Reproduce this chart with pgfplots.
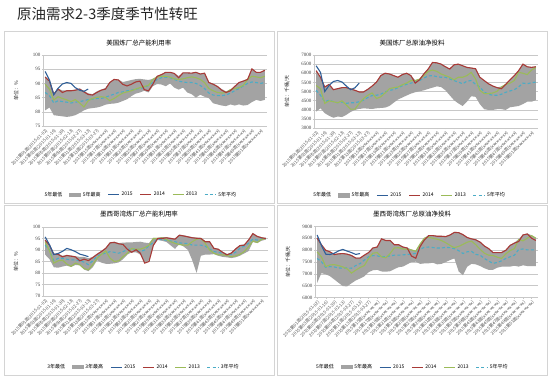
\documentclass[border=0pt]{standalone}
\usepackage{fontspec}
\setmainfont{Liberation Serif}
\newfontfamily\cjk{Noto Sans CJK SC}
\usepackage{pgfplots}
\pgfplotsset{compat=1.18}
\usepgfplotslibrary{fillbetween}
\usepackage{pgfplotstable}

\definecolor{cband}{HTML}{A3A3A3}
\definecolor{c15}{HTML}{2F5F98}
\definecolor{c14}{HTML}{A83A37}
\definecolor{c13}{HTML}{9BBB59}
\definecolor{cavg}{HTML}{4BACC6}
\definecolor{cgrid}{HTML}{C8C8C8}
\definecolor{cframe}{HTML}{D4D4D4}

% US refinery utilisation (%)
\pgfplotstableread{
w lo hi a14 a13 avg
1 80.5 92.5 92.2 89.7 86.8
2 81.5 91.0 90.8 88.0 85.7
3 78.8 86.5 86.2 84.2 83.1
4 78.6 88.2 88.0 85.3 83.9
5 78.4 87.5 86.8 84.7 83.6
6 78.2 87.6 87.4 84.2 83.4
7 78.4 87.6 87.4 83.6 83.1
8 78.8 87.8 87.6 84.3 83.4
9 79.6 88.2 88.0 83.1 83.6
10 80.5 87.4 87.0 81.7 83.9
11 81.1 86.5 86.1 83.9 84.3
12 81.3 86.2 85.9 84.7 84.5
13 81.5 87.2 86.8 85.1 84.7
14 81.9 87.8 87.6 85.3 84.7
15 82.5 88.4 88.0 85.1 85.1
16 82.8 90.5 90.3 83.9 85.7
17 82.9 91.5 91.4 84.7 86.2
18 83.2 91.4 91.2 85.7 86.8
19 83.8 90.5 89.7 86.6 87.0
20 84.4 90.8 89.1 87.0 87.4
21 85.5 91.2 89.7 87.4 87.6
22 86.4 91.5 90.5 88.0 88.0
23 86.8 91.6 90.8 88.5 88.2
24 87.4 91.4 87.8 88.9 88.5
25 86.8 91.2 87.4 89.3 89.3
26 89.0 91.6 89.7 91.4 90.3
27 89.8 92.6 92.5 92.2 91.4
28 89.6 93.2 93.1 92.5 92.0
29 89.0 94.0 93.9 92.5 92.2
30 90.0 94.0 93.9 92.2 92.0
31 88.5 93.6 93.5 91.6 91.4
32 87.8 92.6 92.0 91.4 90.8
33 88.5 93.8 93.7 91.6 90.5
34 86.8 93.8 93.7 92.0 90.3
35 86.2 93.7 93.6 92.3 90.3
36 85.0 94.0 93.9 92.0 90.0
37 86.0 93.4 93.3 91.4 89.3
38 85.3 93.7 93.6 90.3 88.2
39 84.8 90.5 90.3 88.2 86.6
40 83.0 89.9 89.7 87.4 85.9
41 82.6 89.1 88.9 86.8 85.7
42 82.2 88.0 87.6 86.6 85.7
43 82.0 87.2 86.8 86.8 85.9
44 82.6 87.8 87.4 87.8 86.6
45 82.2 89.1 88.9 88.2 87.4
46 82.6 90.4 90.3 88.5 88.2
47 82.2 91.0 90.8 89.3 89.1
48 82.4 91.6 91.4 91.4 90.0
49 83.4 95.2 95.1 92.5 90.5
50 84.2 94.0 93.9 92.3 90.3
51 83.8 94.0 93.9 92.0 90.0
52 84.2 94.7 94.6 92.5 90.3
}\tabA
\pgfplotstableread{
w v
1 94.2
2 91.2
3 86.0
4 88.3
5 89.8
6 90.3
7 90.0
8 88.5
9 87.6
10 87.2
11 88.0
}\tabAf

% US crude net input (kb/d)
\pgfplotstableread{
w lo hi a14 a13 avg
1 3900 6160 6140 5330 5065
2 4080 5800 5781 5155 4795
3 3810 5260 5244 4350 4440
4 3670 5410 5390 4490 4527
5 3560 5120 5100 4440 4440
6 3630 5175 5155 4385 4385
7 3600 5230 5210 4490 4420
8 3720 5230 5210 4260 4350
9 3880 5160 5140 4030 4385
10 3990 5085 5065 4030 4385
11 4040 4995 4975 4350 4440
12 4080 4995 4975 4615 4527
13 4060 5140 5120 4795 4670
14 4040 5320 5300 4920 4780
15 4080 5535 5515 4615 4795
16 4100 5890 5870 4706 4850
17 4115 6020 6000 4920 4975
18 4205 5980 5960 5155 5065
19 4385 5890 5870 5210 5100
20 4560 5800 5781 5245 5210
21 4670 5945 5925 5370 5315
22 4780 6020 6000 5460 5390
23 4885 5890 5870 5600 5460
24 4960 5620 5460 5600 5515
25 5010 5695 5640 5675 5600
26 5065 5980 5960 5870 5730
27 5140 6250 6230 6105 5850
28 5210 6610 6590 6175 5870
29 5280 6590 6570 6105 5815
30 5245 6520 6500 5960 5780
31 5065 6375 6355 5870 5780
32 4795 6250 6230 5780 5690
33 4527 6480 6460 5640 5600
34 4350 6520 6500 5780 5515
35 4205 6430 6410 5780 5425
36 4440 6340 6320 5870 5565
37 4740 6305 6285 6050 5600
38 4706 6270 6250 5690 5390
39 4310 5800 5781 5065 5245
40 4030 5620 5602 4885 4975
41 3990 5440 5423 4885 4850
42 3990 5320 5300 4920 4795
43 4030 5230 5210 5010 4795
44 4030 5270 5155 5245 4850
45 3990 5410 5390 5390 4955
46 4135 5660 5640 5460 5030
47 4170 5890 5870 5600 5100
48 4205 6160 6140 6050 5245
49 4310 6520 6500 6000 5460
50 4440 6375 6355 5925 5425
51 4440 6340 6320 6175 5480
52 4527 6375 6355 6320 5515
}\tabB
\pgfplotstableread{
w v
1 6410
2 6050
3 5000
4 5330
5 5550
6 5600
7 5520
8 5300
9 5100
10 5200
11 5460
}\tabBf

% Gulf refinery utilisation (%)
\pgfplotstableread{
w lo hi a14 a13 avg
1 88.0 94.6 94.3 93.6 92.1
2 86.0 92.4 92.1 89.6 90.0
3 82.5 88.5 88.1 84.3 85.3
4 82.3 88.4 88.1 85.3 86.4
5 82.8 87.5 87.0 85.6 86.4
6 83.2 87.9 87.6 83.9 86.0
7 82.6 87.6 87.3 82.9 85.7
8 83.5 87.3 87.0 84.3 85.7
9 83.3 87.0 85.3 83.6 85.3
10 81.5 87.0 86.0 81.9 84.7
11 80.8 86.4 85.4 81.4 83.6
12 82.5 87.0 86.7 83.6 85.3
13 85.5 88.4 88.1 86.4 87.4
14 84.5 89.6 89.3 88.1 88.1
15 84.0 91.0 90.7 89.6 88.7
16 84.0 93.4 93.1 86.4 89.3
17 84.2 93.6 93.3 85.0 89.0
18 84.6 93.0 92.7 85.3 88.6
19 86.0 93.2 92.4 87.1 89.3
20 88.0 93.3 90.3 88.6 90.1
21 89.0 93.3 89.0 90.7 90.7
22 89.0 93.5 90.1 90.3 90.0
23 88.0 93.6 88.6 90.4 89.3
24 84.5 93.2 84.3 91.0 90.0
25 85.5 93.0 85.0 92.1 91.9
26 91.8 95.3 92.0 95.0 93.3
27 94.4 95.3 95.0 95.0 94.7
28 94.0 95.6 95.0 95.3 94.4
29 93.5 95.6 95.3 94.6 94.3
30 92.0 95.3 95.0 93.6 93.9
31 90.5 95.0 94.7 92.9 93.6
32 92.5 96.7 96.4 92.4 93.1
33 91.5 96.4 96.1 92.1 92.9
34 90.0 96.0 95.7 92.1 92.9
35 85.5 95.6 95.3 93.6 92.1
36 80.0 95.4 95.1 94.7 92.1
37 87.5 95.3 95.0 95.0 92.1
38 88.0 93.9 93.6 92.9 91.7
39 88.0 93.9 93.6 90.0 90.4
40 88.2 91.0 90.7 88.6 89.3
41 87.5 90.6 90.3 87.9 89.0
42 87.0 89.3 89.0 87.9 88.6
43 86.8 88.2 87.9 87.6 88.1
44 86.5 88.9 88.6 87.1 88.1
45 86.8 90.7 90.4 87.4 89.0
46 87.5 92.2 91.9 88.1 90.7
47 88.5 92.4 92.1 89.3 91.7
48 89.5 94.6 94.3 91.4 92.9
49 93.5 97.4 97.1 93.9 94.7
50 93.0 96.2 95.9 93.3 94.3
51 94.0 95.6 95.3 94.6 94.9
52 94.5 95.3 95.0 95.0 95.0
}\tabC
\pgfplotstableread{
w v
1 95.7
2 92.3
3 88.0
4 88.5
5 89.4
6 90.7
7 90.1
8 89.3
9 88.2
10 87.7
11 87.1
}\tabCf

% Gulf crude net input (kb/d)
\pgfplotstableread{
w lo hi a14 a13 avg
1 6620 8560 8504 7926 7650
2 7030 8250 8229 7720 7513
3 6980 8015 7995 7306 7270
4 6900 7945 7926 7375 7306
5 6760 7836 7816 7389 7290
6 6620 7863 7843 7348 7250
7 6480 7877 7857 7292 7237
8 6470 7850 7830 7210 7250
9 6600 7795 7775 7030 7237
10 6720 7684 7664 7155 7350
11 6800 7684 7664 7265 7430
12 6893 7808 7788 7348 7580
13 7070 7918 7898 7650 7720
14 7150 8111 8091 7871 7770
15 7169 8152 8132 7898 7760
16 7100 8497 8477 7720 7720
17 7090 8428 8408 7678 7720
18 7110 8428 8408 7857 7760
19 7200 8249 8229 8091 7788
20 7280 8249 8229 8105 7788
21 7306 8152 8132 8050 7802
22 7400 8111 8091 8036 7816
23 7500 8029 7750 8009 7830
24 7513 7974 7660 7954 7870
25 7420 8276 8150 8256 8036
26 7440 8524 8430 8504 8120
27 7444 8634 8614 8546 8132
28 7470 8634 8614 8504 8110
29 7400 8607 8587 8463 8091
30 7420 8607 8587 8408 8091
31 7500 8593 8573 8312 8120
32 7582 8662 8642 8201 8105
33 7650 8772 8752 8105 8064
34 7100 8758 8738 8160 7980
35 6940 8676 8656 8243 7860
36 7300 8552 8532 8339 7930
37 7420 8497 8477 8380 7950
38 7400 8455 8435 8229 7820
39 7330 8359 8339 8036 7788
40 7237 8194 8174 7871 7650
41 7169 8084 8064 7788 7540
42 7169 7918 7898 7774 7440
43 7260 7918 7898 7706 7480
44 7300 7918 7898 7650 7550
45 7306 8015 7995 7843 7650
46 7306 8221 8201 7981 7720
47 7340 8318 8298 8064 7788
48 7306 8469 8367 8449 8030
49 7360 8662 8642 8394 8050
50 7330 8703 8683 8504 8009
51 7330 8634 8504 8614 8009
52 7330 8524 8408 8504 8009
}\tabD
\pgfplotstableread{
w v
1 8642
2 8201
3 7830
4 7816
5 7870
6 7970
7 8030
8 7960
9 7898
10 7820
11 7857
}\tabDf

\pgfplotsset{
  panel/.style={
    scale only axis,
    xmin=0.5, xmax=52.5,
    axis x line*=bottom, axis y line*=left,
    axis line style={cgrid, line width=0.5pt},
    ymajorgrids, grid style={cgrid, line width=0.4pt},
    tick style={cgrid, line width=0.4pt}, major tick length=1.5pt, tick align=outside,
    xtick={1,3,...,51},
    xticklabels={{2015第01周(2015-01-02)},{2015第03周(2015-01-16)},{2015第05周(2015-01-30)},{2015第07周(2015-02-13)},{2015第09周(2015-02-27)},{2015第11周(2015-03-13)},{2015第13周(2015-03-27)},{2015第15周(xxxx-xx-xx)},{2015第17周(xxxx-xx-xx)},{2015第19周(xxxx-xx-xx)},{2015第21周(xxxx-xx-xx)},{2015第23周(xxxx-xx-xx)},{2015第25周(xxxx-xx-xx)},{2015第27周(xxxx-xx-xx)},{2015第29周(xxxx-xx-xx)},{2015第31周(xxxx-xx-xx)},{2015第33周(xxxx-xx-xx)},{2015第35周(xxxx-xx-xx)},{2015第37周(xxxx-xx-xx)},{2015第39周(xxxx-xx-xx)},{2015第41周(xxxx-xx-xx)},{2015第43周(xxxx-xx-xx)},{2015第45周(xxxx-xx-xx)},{2015第47周(xxxx-xx-xx)},{2015第49周(xxxx-xx-xx)},{2015第51周(xxxx-xx-xx)}},
    xticklabel style={rotate=45, anchor=north east, inner sep=0.5pt, font=\cjk\fontsize{4.4}{4.4}\selectfont, text=black!70},
    yticklabel style={font=\fontsize{5}{5}\selectfont, text=black!75, inner sep=1pt},
    /pgf/number format/assume math mode=true,
    /pgf/number format/1000 sep={},
    ylabel style={at={(axis description cs:-0.12,0.5)}, anchor=center, font=\cjk\fontsize{5}{5}\selectfont, text=black!85},
    legend columns=-1,
    legend style={draw=none, fill=none, anchor=center, font=\cjk\fontsize{5}{5}\selectfont,
      /tikz/every even column/.append style={column sep=5pt}},
    legend image code/.code={\draw[#1] (0pt,0pt) -- (11pt,0pt);},
  },
  band/.style={fill=cband, draw=none},
  l15/.style={c15, line width=1.1pt},
  l14/.style={c14, line width=1.1pt},
  l13/.style={c13, line width=1.1pt},
  lavg/.style={cavg, line width=1.1pt, dash pattern=on 3pt off 2.2pt},
}

\newcommand\legendset[1]{%
  \addlegendimage{draw=none, fill=none, legend image code/.code={\path[draw=none, fill=none] (0pt,-1.6pt) rectangle (2pt,1.6pt);}}\addlegendentry{#1年最低}
  \addlegendimage{legend image code/.code={\fill[cband] (0pt,-1.6pt) rectangle (11pt,1.6pt);}}\addlegendentry{#1年最高}
  \addlegendimage{l15}\addlegendentry{2015}
  \addlegendimage{l14}\addlegendentry{2014}
  \addlegendimage{l13}\addlegendentry{2013}
  \addlegendimage{lavg}\addlegendentry{#1年平均}
}

\newcommand\panelplots[2]{%
  \addplot[name path=pmn, draw=none, forget plot] table[x=w,y=lo] {#1};
  \addplot[name path=pmx, draw=none, forget plot] table[x=w,y=hi] {#1};
  \addplot[band, forget plot] fill between[of=pmx and pmn];
  \addplot[lavg, forget plot] table[x=w,y=avg] {#1};
  \addplot[l13, forget plot] table[x=w,y=a13] {#1};
  \addplot[l14, forget plot] table[x=w,y=a14] {#1};
  \addplot[l15, forget plot] table[x=w,y=v] {#2};
}

\begin{document}
\begin{tikzpicture}
% panel frames
\draw[cframe, line width=0.6pt] (4pt,346pt) rectangle (274pt,174pt);
\draw[cframe, line width=0.6pt] (277pt,346pt) rectangle (547pt,174pt);
\draw[cframe, line width=0.6pt] (4pt,172pt) rectangle (274pt,2pt);
\draw[cframe, line width=0.6pt] (277pt,172pt) rectangle (547pt,2pt);
% main title
\node[anchor=west, inner sep=0pt, font=\cjk\fontsize{14.5}{14.5}\selectfont, text=black!85] at (17pt,363pt) {原油需求2-3季度季节性转旺};
% panel titles
\node[font=\cjk\fontsize{6.5}{6.5}\selectfont] at (139pt,334pt) {美国炼厂总产能利用率};
\node[font=\cjk\fontsize{6.5}{6.5}\selectfont] at (412pt,334pt) {美国炼厂总原油净投料};
\node[font=\cjk\fontsize{6.5}{6.5}\selectfont] at (139pt,163pt) {墨西哥湾炼厂总产能利用率};
\node[font=\cjk\fontsize{6.5}{6.5}\selectfont] at (412pt,163pt) {墨西哥湾炼厂总原油净投料};

% top-left
\begin{axis}[panel, at={(43pt,251pt)}, anchor=south west, width=224pt, height=71pt,
  ymin=75, ymax=100, ytick={75,80,...,100}, ylabel={单位：\%},
  legend style={at={(axis description cs:0.43,-0.97)}}]
\panelplots{\tabA}{\tabAf}
\legendset{5}
\end{axis}

% top-right
\begin{axis}[panel, at={(314pt,249pt)}, anchor=south west, width=224pt, height=73pt,
  ymin=3000, ymax=7000, ytick={3000,3500,...,7000}, ylabel={单位：千桶/天},
  legend style={at={(axis description cs:0.42,-0.92)}}]
\panelplots{\tabB}{\tabBf}
\legendset{5}
\end{axis}

% bottom-left
\begin{axis}[panel, at={(43pt,81pt)}, anchor=south west, width=225pt, height=69pt,
  ymin=70, ymax=100, ytick={70,75,...,100}, ylabel={单位：\%},
  legend style={at={(axis description cs:0.44,-1.03)}}]
\panelplots{\tabC}{\tabCf}
\legendset{3}
\end{axis}

% bottom-right
\begin{axis}[panel, at={(315pt,79.5pt)}, anchor=south west, width=223pt, height=71pt,
  ymin=6000, ymax=9000, ytick={6000,6500,...,9000}, ylabel={单位：千桶/天},
  legend style={at={(axis description cs:0.43,-0.98)}}]
\panelplots{\tabD}{\tabDf}
\legendset{5}
\end{axis}
\useasboundingbox (0pt,0pt) rectangle (550pt,377pt);
\end{tikzpicture}
\end{document}
